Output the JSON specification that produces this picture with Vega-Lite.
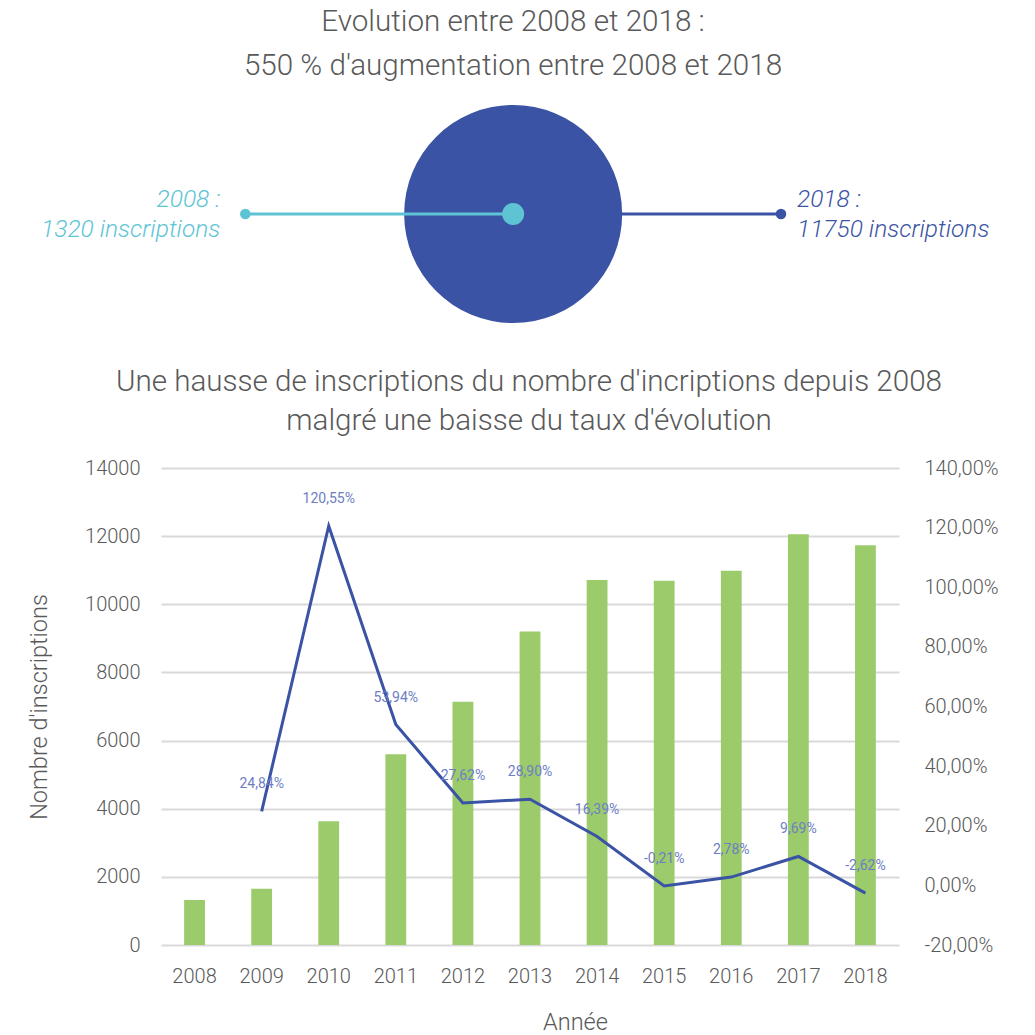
{
  "$schema": "https://vega.github.io/schema/vega-lite/v6.json",
  "background": "white",
  "padding": {"left": 27, "top": 7, "right": 5, "bottom": 5},
  "bounds": "flush",
  "spacing": 142,
  "config": {
    "view": {"stroke": null},
    "font": "Roboto",
    "locale": {
      "number": {"decimal": ",", "thousands": "\u202f", "grouping": [3], "currency": ["", "\u00a0€"], "minus": "-", "percent": "%"}
    },
    "title": {"font": "Roboto", "fontWeight": 300, "fontSize": 29.6, "color": "#595959", "anchor": "middle", "lineHeight": 44},
    "axis": {
      "labelFont": "Roboto", "labelFontWeight": 300, "labelFontSize": 20, "labelColor": "#595959",
      "titleFont": "Roboto", "titleFontWeight": 300, "titleFontSize": 23.5, "titleColor": "#595959",
      "ticks": false, "domain": false
    }
  },
  "vconcat": [
    {
      "width": 738,
      "height": 224,
      "title": {"text": ["Evolution entre 2008 et 2018 :", "550 % d'augmentation entre 2008 et 2018"], "dx": -17, "offset": 20},
      "data": {"values": [
        {"annee": 2008, "inscriptions": 1320, "etiquette": "2008 :\n1320 inscriptions"},
        {"annee": 2018, "inscriptions": 11750, "etiquette": "2018 :\n11750 inscriptions"}
      ]},
      "layer": [
        {
          "transform": [{"aggregate": [{"op": "mean", "field": "annee", "as": "milieu"}, {"op": "max", "field": "annee", "as": "fin"}]}],
          "mark": {"type": "rule", "color": "#3A53A4", "strokeWidth": 3},
          "encoding": {
            "x": {"field": "milieu", "type": "quantitative", "scale": {"domain": [2006.426, 2020.203], "nice": false, "zero": false}, "axis": null},
            "x2": {"field": "fin"},
            "y": {"datum": 0, "type": "quantitative", "scale": {"domain": [-1, 1]}, "axis": null}
          }
        },
        {
          "transform": [{"aggregate": [{"op": "mean", "field": "annee", "as": "milieu"}]}],
          "mark": {"type": "circle", "color": "#3A53A4", "opacity": 1, "size": 47524},
          "encoding": {
            "x": {"field": "milieu", "type": "quantitative", "scale": {"domain": [2006.426, 2020.203], "nice": false, "zero": false}, "axis": null},
            "y": {"datum": 0, "type": "quantitative", "scale": {"domain": [-1, 1]}, "axis": null}
          }
        },
        {
          "transform": [{"aggregate": [{"op": "min", "field": "annee", "as": "debut"}, {"op": "mean", "field": "annee", "as": "milieu"}]}],
          "mark": {"type": "rule", "color": "#5EC4D4", "strokeWidth": 3},
          "encoding": {
            "x": {"field": "debut", "type": "quantitative", "scale": {"domain": [2006.426, 2020.203], "nice": false, "zero": false}, "axis": null},
            "x2": {"field": "milieu"},
            "y": {"datum": 0, "type": "quantitative", "scale": {"domain": [-1, 1]}, "axis": null}
          }
        },
        {
          "transform": [{"aggregate": [{"op": "mean", "field": "annee", "as": "milieu"}]}],
          "mark": {"type": "circle", "color": "#5EC4D4", "opacity": 1, "size": 484},
          "encoding": {
            "x": {"field": "milieu", "type": "quantitative", "scale": {"domain": [2006.426, 2020.203], "nice": false, "zero": false}, "axis": null},
            "y": {"datum": 0, "type": "quantitative", "scale": {"domain": [-1, 1]}, "axis": null}
          }
        },
        {
          "mark": {"type": "circle", "opacity": 1, "size": 112},
          "encoding": {
            "x": {"field": "annee", "type": "quantitative", "scale": {"domain": [2006.426, 2020.203], "nice": false, "zero": false}, "axis": null},
            "y": {"datum": 0, "type": "quantitative", "scale": {"domain": [-1, 1]}, "axis": null},
            "color": {"field": "annee", "type": "nominal", "scale": {"domain": [2008, 2018], "range": ["#5EC4D4", "#3A53A4"]}, "legend": null}
          }
        },
        {
          "transform": [{"filter": {"field": "annee", "equal": 2008}}],
          "mark": {"type": "text", "align": "right", "baseline": "middle", "dx": -25, "dy": -14, "fontSize": 24.5, "fontStyle": "italic", "fontWeight": 300, "font": "Roboto", "color": "#5EC4D4", "lineBreak": "\n", "lineHeight": 30},
          "encoding": {
            "x": {"field": "annee", "type": "quantitative", "scale": {"domain": [2006.426, 2020.203], "nice": false, "zero": false}, "axis": null},
            "y": {"datum": 0, "type": "quantitative", "scale": {"domain": [-1, 1]}, "axis": null},
            "text": {"field": "etiquette", "type": "nominal"}
          }
        },
        {
          "transform": [{"filter": {"field": "annee", "equal": 2018}}],
          "mark": {"type": "text", "align": "left", "baseline": "middle", "dx": 16, "dy": -14, "fontSize": 24.5, "fontStyle": "italic", "fontWeight": 300, "font": "Roboto", "color": "#3A53A4", "lineBreak": "\n", "lineHeight": 30},
          "encoding": {
            "x": {"field": "annee", "type": "quantitative", "scale": {"domain": [2006.426, 2020.203], "nice": false, "zero": false}, "axis": null},
            "y": {"datum": 0, "type": "quantitative", "scale": {"domain": [-1, 1]}, "axis": null},
            "text": {"field": "etiquette", "type": "nominal"}
          }
        }
      ]
    },
    {
      "width": 738,
      "height": 477,
      "title": {"text": ["Une hausse de inscriptions du nombre d'incriptions  depuis 2008", "malgré une baisse du taux d'évolution"], "dx": -1, "offset": 21, "lineHeight": 39},
      "data": {"values": [
        {"annee": 2008, "inscriptions": 1320, "taux": null},
        {"annee": 2009, "inscriptions": 1648, "taux": 0.2484},
        {"annee": 2010, "inscriptions": 3634, "taux": 1.2055},
        {"annee": 2011, "inscriptions": 5595, "taux": 0.5394},
        {"annee": 2012, "inscriptions": 7140, "taux": 0.2762},
        {"annee": 2013, "inscriptions": 9204, "taux": 0.289},
        {"annee": 2014, "inscriptions": 10712, "taux": 0.1639},
        {"annee": 2015, "inscriptions": 10690, "taux": -0.0021},
        {"annee": 2016, "inscriptions": 10987, "taux": 0.0278},
        {"annee": 2017, "inscriptions": 12052, "taux": 0.0969},
        {"annee": 2018, "inscriptions": 11736, "taux": -0.0262}
      ]},
      "encoding": {
        "x": {
          "field": "annee", "type": "ordinal",
          "scale": {"paddingInner": 0.69, "paddingOuter": 0.345},
          "axis": {"title": "Année", "labelAngle": 0, "labelPadding": 21, "titlePadding": 24, "titleX": 414}
        }
      },
      "layer": [
        {
          "mark": {"type": "bar", "color": "#9BCB6B"},
          "encoding": {
            "y": {
              "field": "inscriptions", "type": "quantitative",
              "scale": {"domain": [0, 14000], "nice": false},
              "axis": {"title": "Nombre d'inscriptions", "values": [0, 2000, 4000, 6000, 8000, 10000, 12000, 14000], "format": "d", "grid": true, "gridColor": "#D9D9D9", "gridWidth": 2, "labelPadding": 21, "titlePadding": 33}
            }
          }
        },
        {
          "transform": [{"filter": "datum.taux != null"}],
          "encoding": {
            "y": {
              "field": "taux", "type": "quantitative",
              "scale": {"domain": [-0.2, 1.4], "nice": false, "zero": false},
              "axis": {"orient": "right", "title": null, "values": [-0.2, 0, 0.2, 0.4, 0.6, 0.8, 1, 1.2, 1.4], "format": ".2%", "grid": false, "labelPadding": 25}
            }
          },
          "layer": [
            {"mark": {"type": "line", "color": "#3A53A4", "strokeWidth": 3}, "encoding": {}},
            {
              "mark": {"type": "text", "dy": -27, "fontSize": 14, "font": "Roboto", "color": "#6E7EC4"},
              "encoding": {"text": {"field": "taux", "type": "quantitative", "format": ".2%"}}
            }
          ]
        }
      ],
      "resolve": {"scale": {"y": "independent"}}
    }
  ]
}
